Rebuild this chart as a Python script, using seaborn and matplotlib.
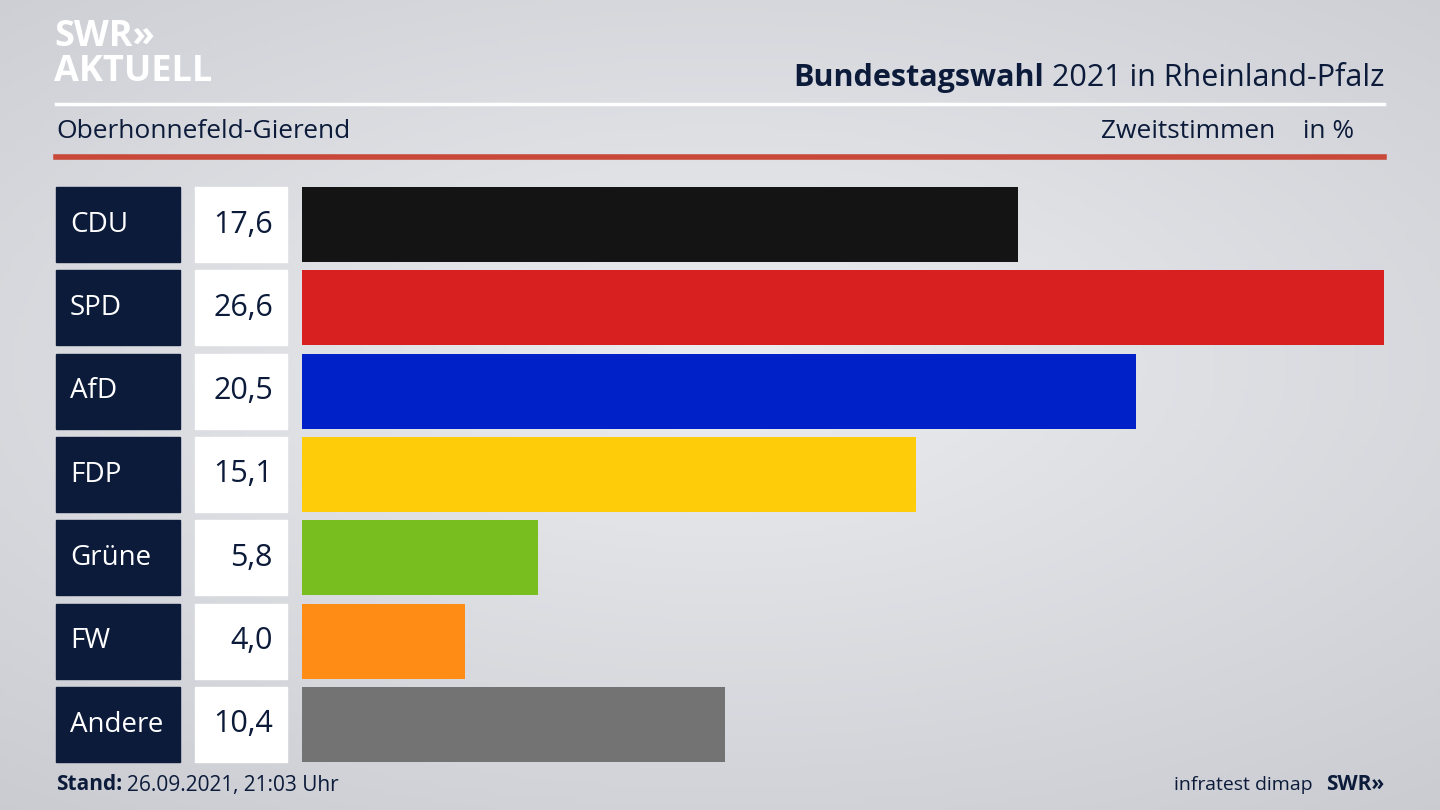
import numpy as np
import pandas as pd
import matplotlib
matplotlib.use("Agg")
import matplotlib.pyplot as plt
import seaborn as sns
from matplotlib.patches import Rectangle
from matplotlib.lines import Line2D

# ─── Daten ────────────────────────────────────────────────────────────────────
parties = ["CDU", "SPD", "AfD", "FDP", "Grüne", "FW", "Andere"]
values = [17.6, 26.6, 20.5, 15.1, 5.8, 4.0, 10.4]
colors = ["#141414", "#d82020", "#0021c8", "#ffcc0a", "#78be1e", "#ff8c14", "#737373"]

W, H = 1440, 810
NAVY = "#0c1b3a"
plt.rcParams["font.family"] = "Open Sans"

fig = plt.figure(figsize=(W / 100, H / 100), dpi=100)

# Hintergrund mit leichtem Verlauf
bg = fig.add_axes([0, 0, 1, 1])
yy, xx = np.mgrid[0:1:200j, 0:1:300j]
grad = 1 - 0.6 * np.sqrt(((xx - 0.5) * 1.2) ** 2 + ((yy - 0.45) * 1.4) ** 2)
bg.imshow(grad, cmap=matplotlib.colors.LinearSegmentedColormap.from_list("bg", ["#c9cbd1", "#ecedf0"]),
          aspect="auto", extent=[0, 1, 0, 1], vmin=0.4, vmax=1)
bg.axis("off")

def fx(px):
    return px / W

def fy(py):
    return 1 - py / H

# ─── Balken ───────────────────────────────────────────────────────────────────
top, bottom = 187, 762
ax = fig.add_axes([fx(302), fy(bottom), fx(1384) - fx(302), (bottom - top) / H])
df = pd.DataFrame({"party": parties, "value": values})
sns.barplot(data=df, x="value", y="party", hue="party", palette=colors, legend=False,
            width=0.9, saturation=1, ax=ax, orient="h")
ax.set_xlim(0, 26.6)
ax.set_ylim(6.45, -0.45)
ax.axis("off")

pitch = (bottom - top) / 6.9
for i, (p, v) in enumerate(zip(parties, values)):
    y0 = top + i * pitch
    y1 = y0 + 0.9 * pitch
    fig.patches.append(Rectangle((fx(56), fy(y1)), fx(180) - fx(56), (y1 - y0) / H,
                                 transform=fig.transFigure, color=NAVY))
    fig.patches.append(Rectangle((fx(195), fy(y1)), fx(287) - fx(195), (y1 - y0) / H,
                                 transform=fig.transFigure, color="white"))
    ym = fy((y0 + y1) / 2)
    fig.text(fx(70), ym, p, color="white", fontsize=20, va="center", ha="left")
    fig.text(fx(273), ym, f"{v:.1f}".replace(".", ","), color=NAVY, fontsize=22,
             va="center", ha="right")

# ─── Kopf ─────────────────────────────────────────────────────────────────────
fig.text(fx(54), fy(37), "SWR»", color="white", fontsize=26, fontweight="bold", va="center")
fig.text(fx(54), fy(72), "AKTUELL", color="white", fontsize=26, fontweight="bold", va="center")
t = fig.text(fx(1384), fy(78), "2021 in Rheinland-Pfalz", color=NAVY, fontsize=22,
             ha="right", va="center")
fig.canvas.draw()
bb = t.get_window_extent()
fig.text(bb.x0 / W - fx(8), fy(78), "Bundestagswahl", color=NAVY, fontsize=22,
         fontweight="bold", ha="right", va="center")
fig.add_artist(Line2D([fx(56), fx(1384)], [fy(104), fy(104)], color="white", lw=2.5))
fig.text(fx(56), fy(131), "Oberhonnefeld-Gierend", color=NAVY, fontsize=19, va="center")
fig.text(fx(1354), fy(131), "Zweitstimmen    in %", color=NAVY, fontsize=19,
         ha="right", va="center")
fig.add_artist(Line2D([fx(56), fx(1384)], [fy(157), fy(157)], color="#c8483a", lw=4))

# ─── Fuß ──────────────────────────────────────────────────────────────────────
s = fig.text(fx(56), fy(785), "Stand:", color=NAVY, fontsize=15, fontweight="bold", va="center")
fig.canvas.draw()
fig.text(s.get_window_extent().x1 / W + fx(5), fy(785), "26.09.2021, 21:03 Uhr",
         color=NAVY, fontsize=15, va="center")
fig.text(fx(1384), fy(785), "SWR»", color=NAVY, fontsize=15, fontweight="bold",
         ha="right", va="center")
fig.text(fx(1313), fy(785), "infratest dimap", color=NAVY, fontsize=14,
         ha="right", va="center")

fig.savefig("out.png", dpi=100)
